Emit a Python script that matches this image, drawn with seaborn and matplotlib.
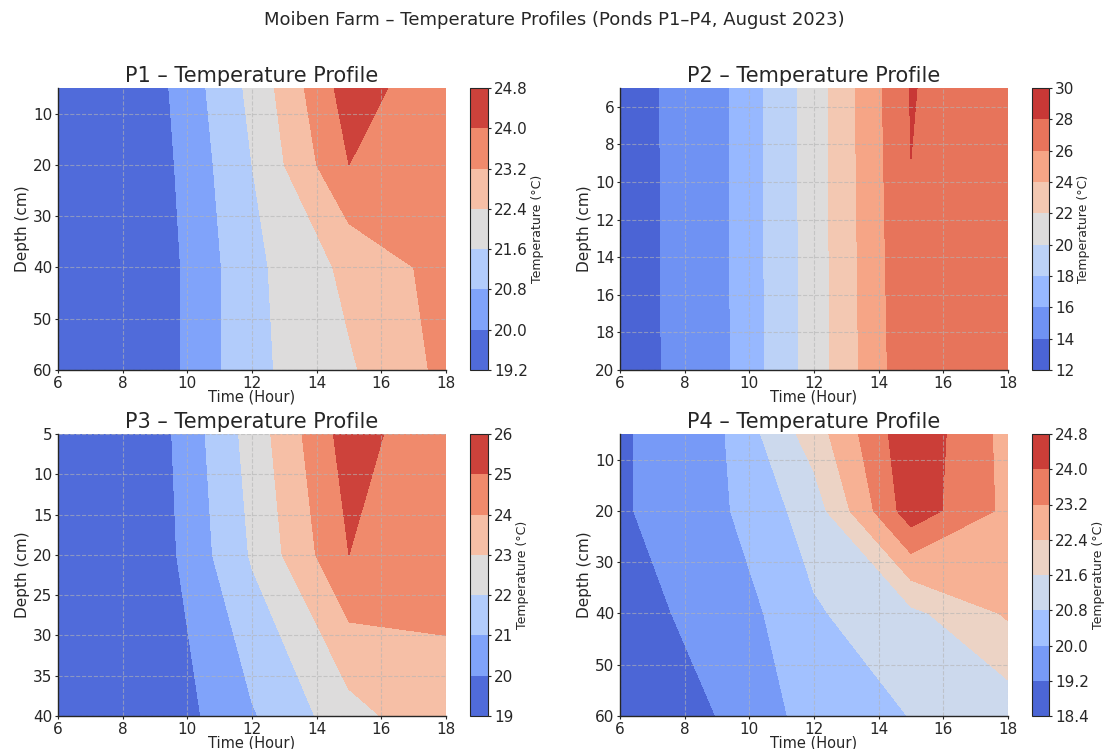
import numpy as np
import matplotlib
matplotlib.use("Agg")
import matplotlib.pyplot as plt
import seaborn as sns

# Sampling hours (x) shared by every pond
hours = [6, 9, 12, 15, 18]

# Pond P1: depth (cm) rows x hour columns, temperature in °C
p1_depths = [5, 20, 40, 60]
p1_temps = [
    [19.40, 19.70, 21.80, 24.40, 23.40],
    [19.35, 19.60, 21.60, 24.00, 23.80],
    [19.30, 19.50, 21.40, 22.60, 23.50],
    [19.25, 19.50, 21.40, 22.30, 23.40],
]

# Pond P2
p2_depths = [5, 20]
p2_temps = [
    [13.10, 15.30, 20.95, 28.12, 26.20],
    [13.10, 15.22, 20.92, 27.64, 26.30],
]

# Pond P3
p3_depths = [5, 20, 40]
p3_temps = [
    [19.30, 19.50, 22.40, 25.50, 24.10],
    [19.25, 19.40, 22.10, 25.00, 24.15],
    [19.10, 19.20, 20.90, 22.60, 23.85],
]

# Pond P4
p4_depths = [5, 20, 40, 60]
p4_temps = [
    [19.10, 19.82, 22.00, 24.61, 22.93],
    [19.10, 19.81, 21.18, 24.47, 23.00],
    [19.03, 19.35, 20.70, 21.40, 22.50],
    [18.50, 19.21, 20.30, 20.82, 21.11],
]

# Contour level ranges (low, high, step) per pond
p1_levels = (19.2, 24.8, 0.8)
p2_levels = (12, 30, 2)
p3_levels = (19, 26, 1)
p4_levels = (18.4, 24.8, 0.8)

pond_names = ["P1", "P2", "P3", "P4"]
suptitle = "Moiben Farm – Temperature Profiles (Ponds P1–P4, August 2023)"

sns.set_style("white")
plt.rcParams["font.family"] = ["DejaVu Sans"]
ink = "#262626"
plt.rcParams["text.color"] = ink
plt.rcParams["axes.labelcolor"] = ink
plt.rcParams["xtick.color"] = ink
plt.rcParams["ytick.color"] = ink
plt.rcParams["xtick.bottom"] = True
plt.rcParams["ytick.left"] = True

cmap = sns.color_palette("coolwarm", as_cmap=True)

W, H = 1108, 749
fig = plt.figure(figsize=(W / 100, H / 100), dpi=100)

def frac_box(x0, y0, x1, y1):
    return [x0 / W, 1 - y1 / H, (x1 - x0) / W, (y1 - y0) / H]

panels = [
    (p1_depths, p1_temps, p1_levels, (58, 88, 446, 370), (470, 488)),
    (p2_depths, p2_temps, p2_levels, (620, 88, 1008, 370), (1032, 1049)),
    (p3_depths, p3_temps, p3_levels, (58, 434, 446, 716), (470, 488)),
    (p4_depths, p4_temps, p4_levels, (620, 434, 1008, 716), (1032, 1049)),
]

for name, (depths, temps, lev, box, cbx) in zip(pond_names, panels):
    ax = fig.add_axes(frac_box(*box))
    cax = fig.add_axes(frac_box(cbx[0], box[1], cbx[1], box[3]))
    lo, hi, step = lev
    levels = np.round(np.arange(lo, hi + step / 2, step), 2)
    X, Y = np.meshgrid(np.array(hours, float), np.array(depths, float))
    Z = np.array(temps, float)
    cf = ax.contourf(X, Y, Z, levels=levels, cmap=cmap, zorder=1)
    ax.invert_yaxis()
    ax.set_xlim(6, 18)
    ax.set_title(f"{name} – Temperature Profile", fontsize=15, pad=4)
    ax.set_xlabel("Time (Hour)", fontsize=10.5, labelpad=-1)
    ax.set_ylabel("Depth (cm)", fontsize=11, labelpad=2)
    ax.tick_params(labelsize=11, length=2.5, width=0.8, pad=1.5)
    ax.set_axisbelow("line")
    ax.grid(True, linestyle="--", color="#b4b4b4", linewidth=0.8, alpha=0.6)
    sns.despine(ax=ax, top=True, right=True)
    for s in ("left", "bottom"):
        ax.spines[s].set_color(ink)
        ax.spines[s].set_linewidth(1.0)
        ax.spines[s].set_zorder(3)
    cb = fig.colorbar(cf, cax=cax)
    cb.outline.set_edgecolor(ink)
    cb.outline.set_linewidth(0.8)
    cb.set_label("Temperature (°C)", fontsize=9, labelpad=2)
    cb.ax.tick_params(labelsize=11, length=2.5, width=0.8, pad=2)
    if lo != int(lo) or step != int(step):
        cb.set_ticks(levels)
        cb.set_ticklabels([f"{v:.1f}" for v in levels])

fig.suptitle(suptitle, fontsize=13, y=1 - 20 / H, va="center")
fig.savefig("out.png", dpi=100)
